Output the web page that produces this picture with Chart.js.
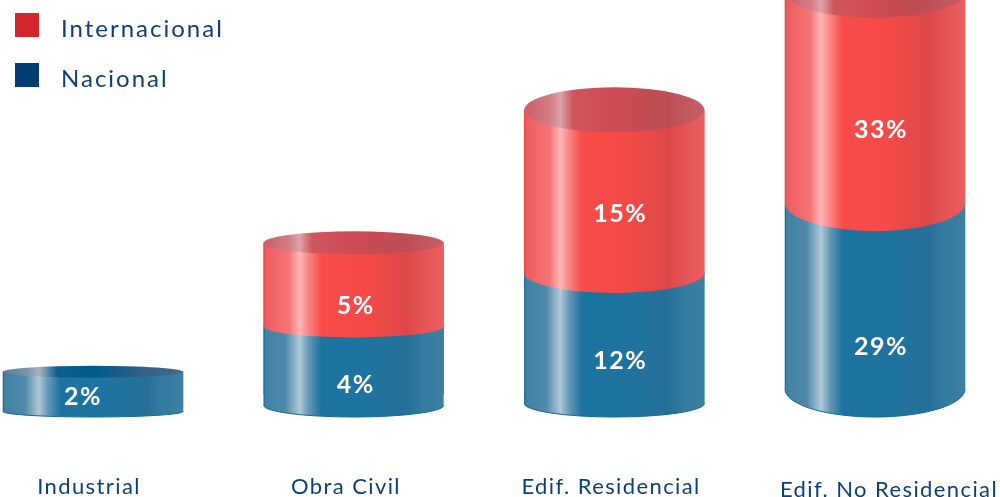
<!DOCTYPE html>
<html>
<head>
<meta charset="utf-8">
<style>
	html, body { margin: 0; padding: 0; background: #fff; }
	#wrap { position: relative; width: 1000px; height: 497px; overflow: hidden; }
	.leg { position: absolute; left: 61px; color: #0f3f73; font: 24px Lato, sans-serif; letter-spacing: 2px; line-height: 30px; white-space: nowrap; }
	.sw { position: absolute; left: 15px; width: 24px; height: 24px; }
</style>
<script src="https://cdn.jsdelivr.net/npm/chart.js@4"></script>
</head>
<body>
<div id="wrap">
	<canvas id="chart" width="1000" height="497"></canvas>
	<span class="sw" style="top:13px;background:#d4242c"></span><span class="leg" style="top:13px">Internacional</span>
	<span class="sw" style="top:63px;background:#033e73"></span><span class="leg" style="top:63px">Nacional</span>
</div>
<script>
var categorias = ['Industrial', 'Obra Civil', 'Edif. Residencial', 'Edif. No Residencial'];
var nacional = [2, 4, 12, 29];
var internacional = [null, 5, 15, 33];

// every cylinder in the picture has its own vertical scale
var ejeMin = [-0.265, -1.369, -1.26, -4.44];
var ejeMax = [20.585, 23.45, 37.11, 60.72];

// look of each column: half height of the ellipses, label nudges
var semiBorde = [6, 11.5, 22.5, 26];
var semiUnion = [0, 10.6, 20, 28];
var semiBase = [5.5, 11.7, 13.6, 28];
var corrimientoTick = [-4, -7.7, -3.3, 14];
var ajusteX = [-10, 2, 6, 6];
var ajusteNac = [5, 24.5, 23, 51];
var ajusteInt = [0, 21, 22.5, 32.5];
var ANCHO = 180, SUELO = 417;

var tonos = {
	rojo: [[0, '#ee5a5c'], [0.05, '#f06466'], [0.14, '#f37577'], [0.2, '#feb6b6'], [0.25, '#fb8485'], [0.32, '#f84c4a'], [0.55, '#f64a48'], [0.8, '#dc4847'], [0.88, '#e35353'], [1, '#ec5f60']],
	azul: [[0, '#3f80a4'], [0.12, '#5089a9'], [0.2, '#b0c8d6'], [0.25, '#6498b6'], [0.32, '#1c739f'], [0.6, '#1f749f'], [0.8, '#266f98'], [0.88, '#337ba0'], [1, '#3e80a3']],
	rojoBorde: [[0, '#c95f6a'], [0.14, '#d27c84'], [0.2, '#dca3a8'], [0.27, '#cf565e'], [0.5, '#cc4a52'], [0.8, '#bd4e57'], [1, '#c85e67']],
	azulBorde: [[0, '#5b7f9b'], [0.14, '#7b97ac'], [0.2, '#a6b5c1'], [0.3, '#105d8c'], [0.5, '#015a8a'], [0.75, '#2f5f87'], [1, '#45698c']]
};

function gradiente(ctx, x, nombre) {
	var g = ctx.createLinearGradient(x - ANCHO / 2, 0, x + ANCHO / 2, 0);
	tonos[nombre].forEach(function (t) { g.addColorStop(t[0], t[1]); });
	return g;
}

// tick labels sit a little off the column centres in the original
class EjeCorrido extends Chart.CategoryScale {
	getPixelForTick(i) {
		return super.getPixelForTick(i) + corrimientoTick[i];
	}
}
EjeCorrido.id = 'ejeCorrido';
EjeCorrido.defaults = Chart.CategoryScale.defaults;
Chart.register(EjeCorrido);

function fondo(nombre) {
	return function (c) {
		if (!c.chart.chartArea) return '#888';
		return gradiente(c.chart.ctx, c.chart.scales.x.getPixelForValue(c.dataIndex), nombre);
	};
}

function dibujarCilindro(chart, ds, el) {
	var ctx = chart.ctx;
	var i = ds.columna;
	var r = ANCHO / 2;
	var esNac = ds.serie === 'azul';
	ctx.save();
	// front curve at the bottom of the segment, starts 1px up to hide the seam
	var yPie = esNac ? SUELO - semiBase[i] : el.base;
	var semi = esNac ? semiBase[i] : semiUnion[i];
	ctx.beginPath();
	ctx.moveTo(el.x - r, el.base - 1);
	ctx.lineTo(el.x - r, yPie);
	ctx.ellipse(el.x, yPie, r, semi, 0, Math.PI, 0, true);
	ctx.lineTo(el.x + r, el.base - 1);
	ctx.closePath();
	ctx.fillStyle = gradiente(ctx, el.x, ds.serie);
	ctx.fill();
	if (esNac) {
		ctx.beginPath();
		ctx.ellipse(el.x, yPie, r, semi, 0, Math.PI, 0, true);
		ctx.strokeStyle = '#0e6a96';
		ctx.lineWidth = 1;
		ctx.stroke();
	}
	// left edge line
	ctx.beginPath();
	ctx.moveTo(el.x - r + 0.5, el.y);
	ctx.lineTo(el.x - r + 0.5, yPie);
	ctx.strokeStyle = esNac ? '#176f9c' : '#f5403f';
	ctx.lineWidth = 1;
	ctx.stroke();
	// open top of the cylinder
	if (!esNac || internacional[i] === null) {
		ctx.beginPath();
		ctx.ellipse(el.x, el.y, r, semiBorde[i], 0, 0, Math.PI * 2);
		ctx.fillStyle = gradiente(ctx, el.x, esNac ? 'azulBorde' : 'rojoBorde');
		ctx.fill();
	}
	ctx.restore();
}

var cilindros = {
	id: 'cilindros',
	beforeDraw: function (chart) {
		chart.ctx.letterSpacing = '1.4px';
	},
	afterDatasetsDraw: function (chart) {
		var ctx = chart.ctx;
		// blue first so the red front curve lands over it
		chart.data.datasets.forEach(function (ds, n) {
			var el = chart.getDatasetMeta(n).data[ds.columna];
			if (el && ds.data[ds.columna] !== null) dibujarCilindro(chart, ds, el);
		});
		ctx.save();
		ctx.fillStyle = '#fff';
		ctx.font = 'bold 25px Lato, sans-serif';
		ctx.letterSpacing = '1.5px';
		ctx.textAlign = 'center';
		ctx.textBaseline = 'middle';
		chart.data.datasets.forEach(function (ds, n) {
			var i = ds.columna;
			var el = chart.getDatasetMeta(n).data[i];
			if (!el || ds.data[i] === null) return;
			var aj = ds.serie === 'azul' ? ajusteNac[i] : ajusteInt[i];
			ctx.fillText(ds.data[i] + '%', el.x + ajusteX[i], (el.y + el.base) / 2 + aj);
		});
		ctx.restore();
	}
};

function serieColumna(nombre, valores, serie, i) {
	return {
		label: nombre,
		serie: serie,
		columna: i,
		stack: 'total',
		yAxisID: 'y' + i,
		clip: false,
		barThickness: ANCHO,
		backgroundColor: fondo(serie),
		borderWidth: 0,
		data: categorias.map(function (c, j) { return j === i ? valores[i] : null; })
	};
}

var conjuntos = [];
categorias.forEach(function (c, i) { conjuntos.push(serieColumna('Nacional', nacional, 'azul', i)); });
categorias.forEach(function (c, i) { conjuntos.push(serieColumna('Internacional', internacional, 'rojo', i)); });

var escalas = {
	x: {
		type: 'ejeCorrido',
		offset: false,
		stacked: true,
		grid: { display: false, drawTicks: false },
		border: { display: false },
		afterFit: function (s) {
			s.height = 497 - SUELO;
			s.paddingLeft = 0;
			s.paddingRight = 0;
		},
		ticks: {
			autoSkip: false,
			maxRotation: 0,
			padding: 57,
			color: '#0f3f73',
			font: function (c) {
				return { family: 'Lato, sans-serif', size: 22, lineHeight: c.index === 3 ? 1.45 : 1.2 };
			}
		}
	}
};
categorias.forEach(function (c, i) {
	escalas['y' + i] = { display: false, stacked: true, min: ejeMin[i], max: ejeMax[i] };
});

new Chart(document.getElementById('chart'), {
	type: 'bar',
	data: { labels: categorias, datasets: conjuntos },
	options: {
		responsive: false,
		animation: false,
		layout: { padding: { left: 93, right: 125, top: 0, bottom: 0 } },
		plugins: { legend: { display: false }, tooltip: { enabled: false } },
		scales: escalas
	},
	plugins: [cilindros]
});
</script>
</body>
</html>
